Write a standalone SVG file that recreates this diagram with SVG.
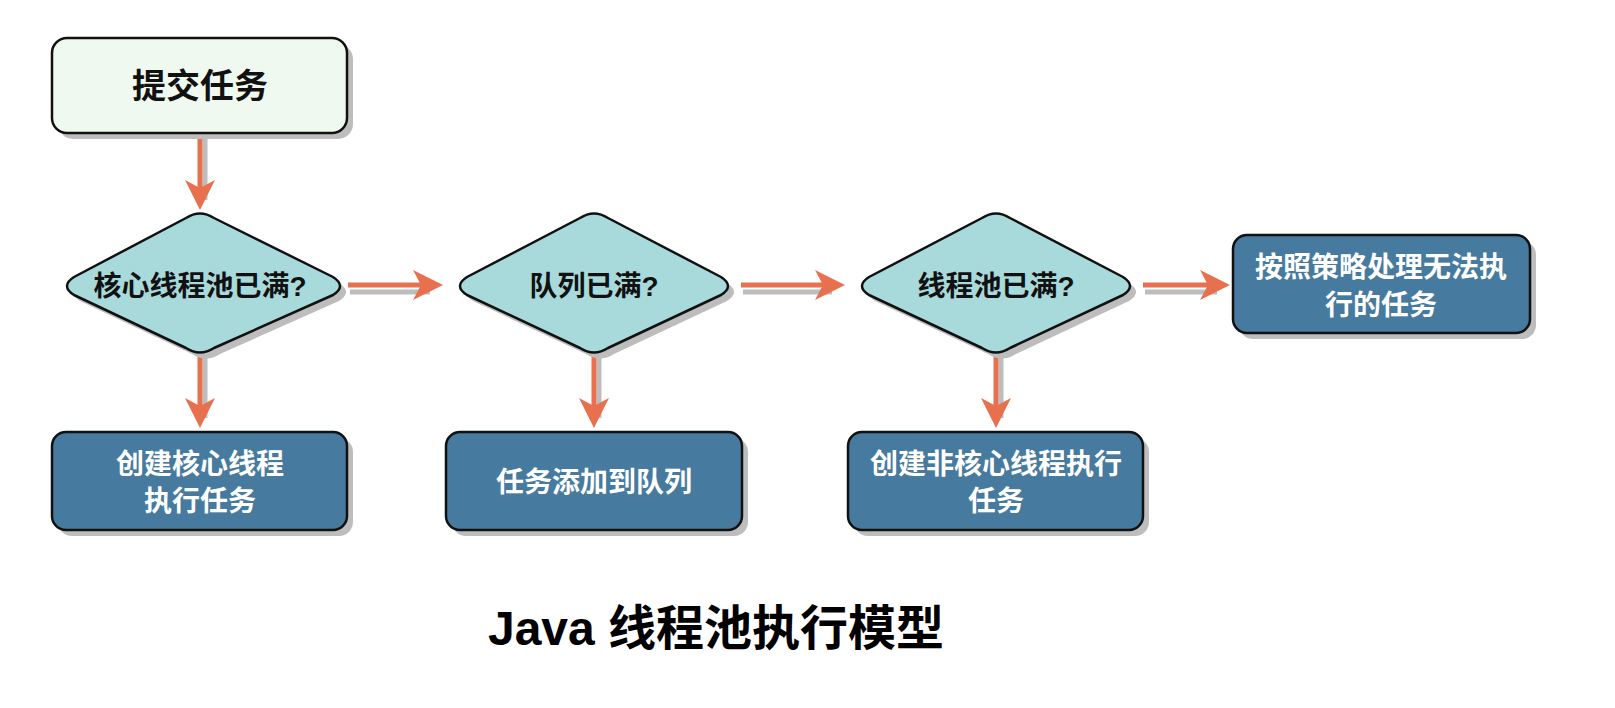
<svg xmlns="http://www.w3.org/2000/svg" width="1615" height="708" viewBox="0 0 1615 708">
<defs>
<style>
.sh{fill:#bdbdbd}
.box{fill:#467a9e;stroke:#111;stroke-width:2.5}
.start{fill:#f0f9ef;stroke:#111;stroke-width:2.5}
.dia{fill:#a8dadc;stroke:#111;stroke-width:2.5;stroke-linejoin:round}
.t{font-family:"Liberation Sans","Noto Sans CJK SC",sans-serif;font-weight:bold;text-anchor:middle}
.dk{fill:#111;font-size:28px}
.wh{fill:#fff;font-size:28px}
.ln{stroke:#e8704f;stroke-width:5;fill:none}
.lns{stroke:#bdbdbd;stroke-width:5;fill:none}
</style>
</defs>
<g id="connectors">
<path class="lns" d="M205 137V200M205 356V418M599 356V418M1001 356V418"/>
<path class="lns" d="M350 292H430M743 292H832M1145 292H1217"/>
<path class="ln" d="M200 135V195M200 354V413M594 354V413M996 354V413"/>
<path class="ln" d="M348 285H425M741 285H827M1143 285H1212"/>
<g fill="#e8704f">
<path d="M185 180L200 210L215 180L200 188Z"/>
<path d="M185 398L200 428L215 398L200 406Z"/>
<path d="M579 398L594 428L609 398L594 406Z"/>
<path d="M981 398L996 428L1011 398L996 406Z"/>
<path d="M413 270L443 285L413 300L421 285Z"/>
<path d="M815 270L845 285L815 300L823 285Z"/>
<path d="M1200 270L1230 285L1200 300L1208 285Z"/>
</g>
</g>
<g id="n-submit">
<rect class="sh" x="58" y="44" width="295" height="95" rx="15"/>
<rect class="start" x="52" y="38" width="295" height="95" rx="15"/>
<text class="t" x="200" y="98" style="font-size:34px;fill:#111">提交任务</text>
</g>
<g id="d1">
<path class="sh" d="M192 224Q206 215 220 224L339 283Q353 292 339 301L220 354Q206 363 192 354L80 301Q66 292 80 283Z"/>
<path class="dia" d="M186 218Q200 209 214 218L333 277Q347 286 333 295L214 348Q200 357 186 348L74 295Q60 286 74 277Z"/>
<text class="t dk" x="200" y="296">核心线程池已满?</text>
</g>
<g id="d2">
<path class="sh" d="M586 224Q600 215 614 224L727 283Q741 292 727 301L614 354Q600 363 586 354L473 301Q459 292 473 283Z"/>
<path class="dia" d="M580 218Q594 209 608 218L721 277Q735 286 721 295L608 348Q594 357 580 348L467 295Q453 286 467 277Z"/>
<text class="t dk" x="594" y="296">队列已满?</text>
</g>
<g id="d3">
<path class="sh" d="M988 224Q1002 215 1016 224L1129 283Q1143 292 1129 301L1016 354Q1002 363 988 354L875 301Q861 292 875 283Z"/>
<path class="dia" d="M982 218Q996 209 1010 218L1123 277Q1137 286 1123 295L1010 348Q996 357 982 348L869 295Q855 286 869 277Z"/>
<text class="t dk" x="996" y="296">线程池已满?</text>
</g>
<g id="n-reject">
<rect class="sh" x="1239" y="241" width="297" height="98" rx="14"/>
<rect class="box" x="1233" y="235" width="297" height="98" rx="14"/>
<text class="t wh" x="1381" y="277">按照策略处理无法执</text>
<text class="t wh" x="1381" y="315">行的任务</text>
</g>
<g id="n-core">
<rect class="sh" x="58" y="438" width="295" height="98" rx="14"/>
<rect class="box" x="52" y="432" width="295" height="98" rx="14"/>
<text class="t wh" x="200" y="474">创建核心线程</text>
<text class="t wh" x="200" y="511">执行任务</text>
</g>
<g id="n-queue">
<rect class="sh" x="452" y="438" width="296" height="98" rx="14"/>
<rect class="box" x="446" y="432" width="296" height="98" rx="14"/>
<text class="t wh" x="594" y="492">任务添加到队列</text>
</g>
<g id="n-noncore">
<rect class="sh" x="854" y="438" width="295" height="98" rx="14"/>
<rect class="box" x="848" y="432" width="295" height="98" rx="14"/>
<text class="t wh" x="996" y="474">创建非核心线程执行</text>
<text class="t wh" x="996" y="511">任务</text>
</g>
<text class="t" x="716" y="645" style="font-size:48px;fill:#000">Java 线程池执行模型</text>
</svg>
